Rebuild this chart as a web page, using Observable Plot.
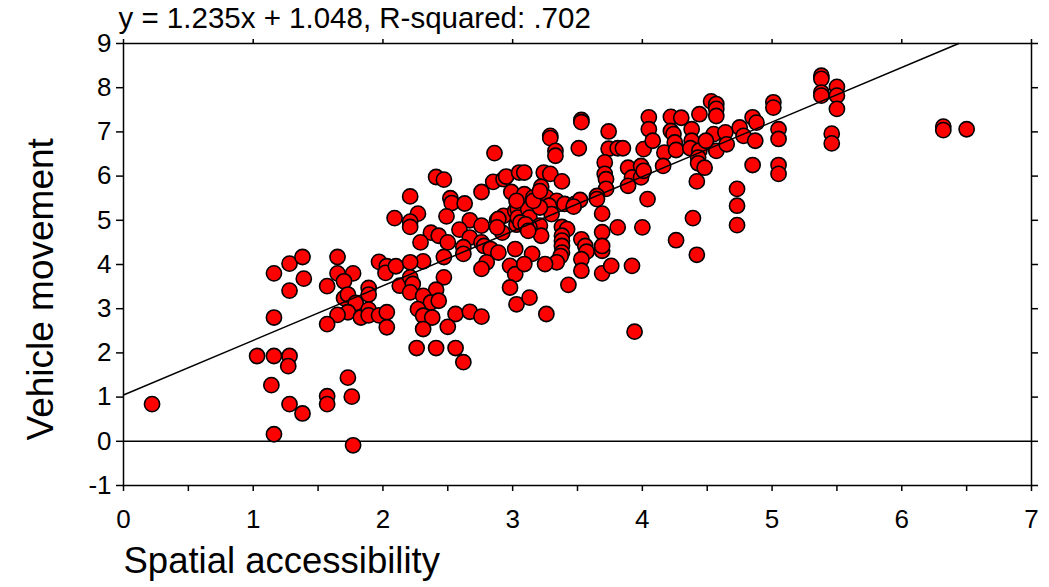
<!DOCTYPE html>
<html>
<head>
<meta charset="utf-8">
<script src="https://cdn.jsdelivr.net/npm/d3@7"></script>
<script src="https://cdn.jsdelivr.net/npm/@observablehq/plot@0.6"></script>
<style>
  html, body { margin: 0; padding: 0; background: #fff; }
  #chart svg { display: block; }
</style>
</head>
<body>
<div id="chart"></div>
<script>
// [accessibility, movement] pairs
const lowAccess = [[0.22,0.84],[1.16,3.80],[1.28,4.02],[1.38,4.17],[1.39,3.68],[1.28,3.41],[1.16,2.80],[1.03,1.93],[1.16,1.93],[1.28,1.93],[1.27,1.70],[1.14,1.27],[1.28,0.84],[1.38,0.63],[1.16,0.16],[1.57,1.02],[1.57,0.84],[1.73,1.44],[1.76,1.01],[1.77,-0.09],[1.65,4.17],[1.65,3.80],[1.57,3.51],[1.77,3.80],[1.70,3.62],[1.70,3.24],[1.73,3.32],[1.79,3.13],[1.73,2.92],[1.65,2.86],[1.57,2.65],[1.83,2.80],[1.89,3.47],[1.89,3.32],[1.89,2.98],[1.89,2.85],[1.97,4.06],[2.03,3.96],[2.02,3.81],[1.97,2.85],[2.03,2.92],[2.03,2.58],[2.10,3.96],[2.13,3.52]];
const midLowAccess = [[2.86,6.52],[2.41,5.98],[2.47,5.92],[2.21,5.54],[2.52,5.50],[2.53,5.39],[2.63,5.38],[2.09,5.05],[2.27,5.15],[2.21,4.97],[2.21,4.85],[2.49,5.09],[2.67,5.00],[2.76,5.64],[2.85,5.87],[2.93,5.93],[2.95,5.99],[2.99,5.64],[3.05,6.08],[2.59,4.79],[2.67,4.61],[2.76,4.88],[2.88,5.00],[2.93,5.10],[2.92,4.72],[3.02,5.21],[3.03,4.90],[2.37,4.72],[2.43,4.65],[2.29,4.50],[2.50,4.50],[2.62,4.39],[2.76,4.50],[2.78,4.42],[2.83,4.35],[2.89,4.27],[2.80,4.05],[2.76,3.90],[3.02,4.35],[2.98,3.97],[3.02,3.78],[2.98,3.48],[3.03,3.10],[2.47,4.17],[2.62,4.24],[2.31,4.07],[2.21,4.05],[2.47,3.71],[2.21,3.71],[2.23,3.56],[2.21,3.37],[2.41,3.43],[2.31,3.29],[2.37,3.14],[2.43,3.18],[2.27,2.99],[2.31,2.84],[2.38,2.80],[2.31,2.54],[2.56,2.88],[2.67,2.93],[2.76,2.82],[2.50,2.59],[2.26,2.11],[2.41,2.11],[2.56,2.11],[2.62,1.79]];
const midAccess = [[3.53,7.27],[3.53,7.22],[3.74,7.01],[3.29,6.91],[3.29,6.86],[3.33,6.57],[3.33,6.46],[3.51,6.63],[3.74,6.62],[3.81,6.63],[3.85,6.63],[3.71,6.31],[3.71,6.05],[3.72,5.93],[3.72,5.71],[3.65,5.55],[3.65,5.48],[3.89,6.19],[3.92,5.97],[3.89,5.78],[3.99,6.23],[3.99,5.97],[4.01,6.61],[4.05,7.33],[4.05,7.06],[4.04,5.48],[3.09,6.08],[3.24,6.08],[3.29,6.05],[3.38,5.88],[3.22,5.76],[3.09,5.59],[3.16,5.52],[3.26,5.52],[3.34,5.44],[3.40,5.37],[3.48,5.37],[3.52,5.46],[3.28,5.33],[3.04,5.25],[3.04,5.06],[3.12,5.25],[3.13,5.06],[3.30,5.14],[3.21,4.88],[3.13,4.84],[3.06,4.95],[3.69,5.15],[3.38,4.85],[3.42,4.80],[3.22,4.65],[3.38,4.65],[3.38,4.54],[3.38,4.42],[3.38,4.27],[3.37,4.19],[3.34,4.05],[3.69,4.73],[3.81,4.84],[4.00,4.84],[3.69,4.31],[3.69,4.42],[3.53,4.57],[3.56,4.42],[3.57,4.29],[3.53,4.12],[3.53,3.86],[3.69,3.80],[3.76,3.97],[3.92,3.97],[3.15,4.24],[3.25,4.01],[3.09,4.01],[3.43,3.54],[3.13,3.25],[3.26,2.88],[3.94,2.48],[3.03,5.44],[3.21,5.29],[3.47,5.31],[2.89,5.03],[2.88,4.84],[3.10,4.91],[3.12,4.76],[3.16,5.44],[3.21,5.66]];
const highAccess = [[4.53,7.69],[4.57,7.63],[4.57,7.52],[4.57,7.36],[5.01,7.67],[5.01,7.55],[4.22,7.34],[4.30,7.32],[4.44,7.40],[4.22,7.02],[4.38,7.06],[4.08,6.80],[4.24,6.95],[4.25,6.76],[4.38,6.80],[4.55,6.95],[4.64,6.99],[4.75,7.10],[4.85,7.33],[4.88,7.21],[4.78,6.91],[4.87,6.80],[5.05,7.06],[5.05,6.84],[4.17,6.53],[4.26,6.59],[4.37,6.63],[4.44,6.58],[4.57,6.57],[4.65,6.72],[4.49,6.80],[4.43,6.42],[4.43,6.29],[4.48,6.19],[4.16,6.23],[4.01,6.12],[4.42,5.88],[4.85,6.25],[5.05,6.25],[5.05,6.05],[4.73,5.71],[4.73,5.33],[4.73,4.89],[4.39,5.05],[4.26,4.55],[4.42,4.22]];
const topAccess = [[5.38,8.27],[5.38,8.20],[5.38,7.89],[5.38,7.82],[5.50,8.02],[5.50,7.82],[5.50,7.52],[5.46,6.96],[5.46,6.74],[6.32,7.12],[6.32,7.04],[6.50,7.06]];

const slope = 1.235, intercept = 1.048, rSquared = ".702";
const xTicks = [0,1,2,3,4,5,6,7];
const xMinorTicks = [0.5,1.5,2.5,3.5,4.5,5.5,6.5];
const yTicks = [-1,0,1,2,3,4,5,6,7,8,9];
const xDomain = [0, 7], yDomain = [-1, 9];
const titleText = `y = ${slope}x + ${intercept}, R-squared: ${rSquared}`;
const xLabel = "Spatial accessibility";
const yLabel = "Vehicle movement";

const points = [...lowAccess, ...midLowAccess, ...midAccess, ...highAccess, ...topAccess]
  .map(([x, y]) => ({x, y}));
const xEnd = Math.min(xDomain[1], (yDomain[1] - intercept) / slope);
const fitLine = [xDomain[0], xEnd].map(x => ({x, y: slope * x + intercept}));
const plain = d => String(d);

const chart = Plot.plot({
  width: 1049,
  height: 587,
  marginLeft: 123,
  marginRight: 18,
  marginTop: 43,
  marginBottom: 102,
  style: {fontFamily: "'Liberation Sans', Arial, sans-serif", color: "black", background: "white"},
  x: {domain: xDomain},
  y: {domain: yDomain},
  marks: [
    Plot.ruleY([0], {stroke: "black", strokeWidth: 1.5}),
    Plot.dot(points, {x: "x", y: "y", r: 7.6, fill: "#ff0000", stroke: "black", strokeWidth: 1.6}),
    Plot.line(fitLine, {x: "x", y: "y", stroke: "black", strokeWidth: 1.5}),
    Plot.frame({stroke: "black", strokeWidth: 1.5}),
    Plot.axisX(xTicks, {anchor: "bottom", tickSize: 6, tickPadding: 18, fontSize: 26, tickFormat: plain, label: null, strokeWidth: 1.5}),
    Plot.axisX(xMinorTicks, {anchor: "bottom", tickSize: 6, fill: "none", label: null, strokeWidth: 1.5}),
    Plot.axisX(xTicks, {anchor: "top", tickSize: 5, fill: "none", label: null, strokeWidth: 1.5}),
    Plot.axisY(yTicks, {anchor: "left", tickSize: 7, tickPadding: 5, fontSize: 26, tickFormat: plain, label: null, strokeWidth: 1.5}),
    Plot.axisY(yTicks, {anchor: "right", tickSize: 6, fill: "none", label: null, strokeWidth: 1.5}),
    Plot.text([titleText], {frameAnchor: "top-left", lineAnchor: "middle", dx: -5, dy: -25, textAnchor: "start", fontSize: 29.5, fill: "black"}),
    Plot.text([xLabel], {frameAnchor: "bottom-left", lineAnchor: "middle", dy: 76, textAnchor: "start", fontSize: 36.5, fill: "black"}),
    Plot.text([yLabel], {frameAnchor: "bottom-left", lineAnchor: "middle", dx: -82, dy: -45, rotate: -90, textAnchor: "start", fontSize: 37, fill: "black"})
  ]
});
document.getElementById("chart").appendChild(chart);
</script>
</body>
</html>
